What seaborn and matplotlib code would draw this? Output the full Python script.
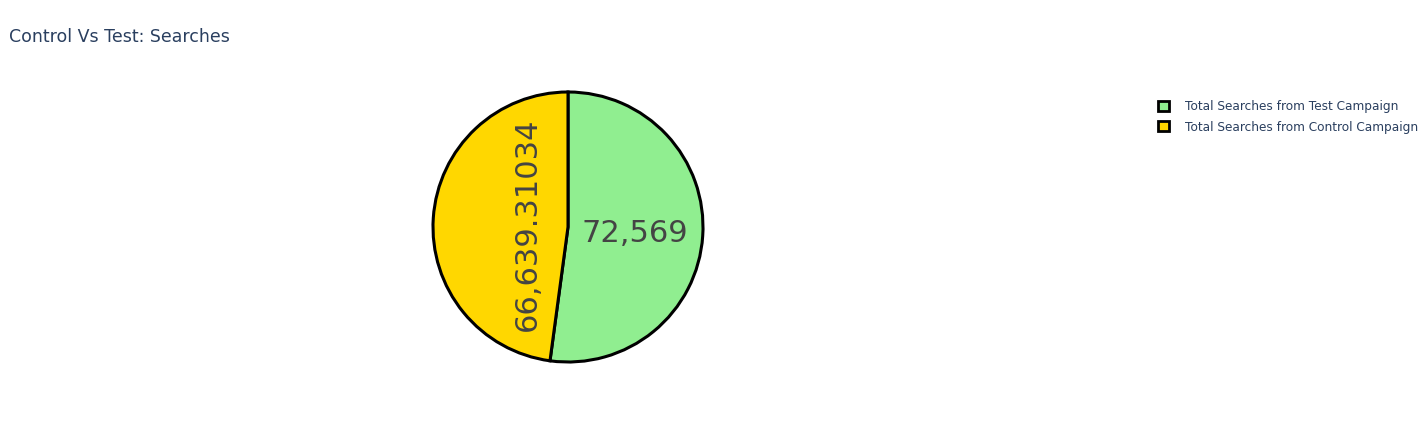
import numpy as np
import seaborn as sns
import matplotlib.pyplot as plt
from matplotlib.patches import Patch

# Data
labels = ["Total Searches from Test Campaign", "Total Searches from Control Campaign"]
values = [72569, 66639.31034]
value_text = ["72,569", "66,639.31034"]
colors = ["#90ee90", "#ffd700"]

sns.set_theme(style="white")
plt.rcParams["font.family"] = ["DejaVu Sans"]

fig = plt.figure(figsize=(14.27, 4.24), dpi=100)
# pie area: centre ~ (568, 227) px, radius ~135 px
ax = fig.add_axes([433 / 1427, 62 / 424, 270 / 1427, 270 / 424])

wedges, _ = ax.pie(values, colors=colors, startangle=90, counterclock=False,
                   wedgeprops=dict(edgecolor="black", linewidth=2.2, clip_on=False),
                   radius=1.0)

# inside labels, placed along each wedge's mid angle
dist = [0.5, 0.3]
rot = [0, 90]
for w, txt, d, r in zip(wedges, value_text, dist, rot):
    mid = np.deg2rad((w.theta1 + w.theta2) / 2) - (0.03 if r == 0 else 0)
    ax.text(d * np.cos(mid), d * np.sin(mid), txt, ha="center", va="center",
            rotation=r, fontsize=22, color="#444444")

ax.set_xlim(-1.0, 1.0)
ax.set_ylim(-1.0, 1.0)
ax.set_aspect("equal")
ax.axis("off")

fig.text(9 / 1427, 1 - 37 / 424, "Control Vs Test: Searches", ha="left", va="center",
         fontsize=12.5, color="#2a3f5f")

handles = [Patch(facecolor=c, edgecolor="black", linewidth=2) for c in colors]
leg = fig.legend(handles, labels, loc="upper left", bbox_to_anchor=(1152 / 1427, 1 - 94 / 424),
                 frameon=False, fontsize=8.7, handlelength=0.9, handleheight=0.9,
                 handletextpad=1.3, labelspacing=0.62, borderpad=0)
for t in leg.get_texts():
    t.set_color("#2a3f5f")

fig.savefig("out.png", dpi=100)
